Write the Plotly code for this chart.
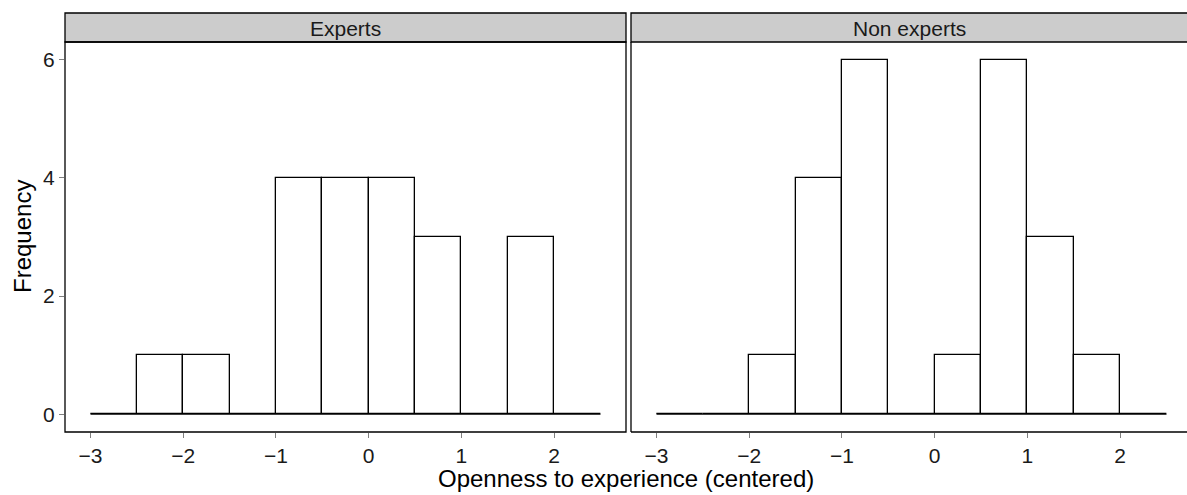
import plotly.graph_objects as go

# Histogram bins (width 0.5) and counts per group
bin_edges = [-3.0, -2.5, -2.0, -1.5, -1.0, -0.5, 0.0, 0.5, 1.0, 1.5, 2.0, 2.5]
experts_counts = [0, 1, 1, 0, 4, 4, 4, 3, 0, 3, 0]
non_experts_counts = [0, 0, 1, 4, 6, 0, 1, 6, 3, 1, 0]
panel_titles = ["Experts", "Non experts"]
x_ticks = [-3, -2, -1, 0, 1, 2]
x_tick_labels = ["\u22123", "\u22122", "\u22121", "0", "1", "2"]
y_ticks = [0, 2, 4, 6]

W, H = 1187, 495
FONT = "Liberation Sans, Arial, Helvetica, sans-serif"


def px_x(p):
    return p / W


def px_y(p):
    return 1 - p / H


centers = [(a + b) / 2 for a, b in zip(bin_edges[:-1], bin_edges[1:])]
widths = [b - a for a, b in zip(bin_edges[:-1], bin_edges[1:])]

fig = go.Figure()

for i, counts in enumerate([experts_counts, non_experts_counts]):
    xa = "x" if i == 0 else "x2"
    ya = "y" if i == 0 else "y2"
    # baseline where empty bins collapse to a line
    fig.add_trace(go.Scatter(
        x=[bin_edges[0], bin_edges[-1]], y=[0, 0], mode="lines",
        line=dict(color="black", width=1.2), xaxis=xa, yaxis=ya,
        hoverinfo="skip", showlegend=False))
    fig.add_trace(go.Bar(
        x=centers, y=counts, width=widths,
        marker=dict(color="white", line=dict(color="black", width=1.3)),
        xaxis=xa, yaxis=ya, showlegend=False))

# panel geometry in pixels
p1 = (65, 626)
p2 = (631, 1187)
top, bottom = 42, 432
strip_top = 13

scale = (p1[1] - p1[0]) / 6.05
x1_range = [-3.275, 2.775]
x2_range = [-3.275, -3.275 + (p2[1] - p2[0]) / scale]

tick_font = dict(family=FONT, size=21, color="#1a1a1a")
axis_common = dict(
    ticks="outside", ticklen=5, tickcolor="#7f7f7f", tickwidth=1,
    showgrid=False, zeroline=False, showline=False, tickfont=tick_font,
)

fig.update_layout(
    width=W, height=H,
    margin=dict(l=0, r=0, t=0, b=0),
    paper_bgcolor="white", plot_bgcolor="white",
    bargap=0,
    xaxis=dict(domain=[px_x(p1[0]), px_x(p1[1])], range=x1_range,
               tickvals=x_ticks, ticktext=x_tick_labels, anchor="y",
               ticklabelstandoff=0, **axis_common),
    xaxis2=dict(domain=[px_x(p2[0]), px_x(p2[1])], range=x2_range,
                tickvals=x_ticks, ticktext=x_tick_labels, anchor="y2",
                ticklabelstandoff=0, **axis_common),
    yaxis=dict(domain=[px_y(bottom), px_y(top)], range=[-0.3, 6.3],
               tickvals=y_ticks, anchor="x", **axis_common),
    yaxis2=dict(domain=[px_y(bottom), px_y(top)], range=[-0.3, 6.3],
                tickvals=y_ticks, showticklabels=False, ticks="",
                showgrid=False, zeroline=False, anchor="x2"),
)

shapes = []
line = dict(color="black", width=1.3)
# panel 1 frame
shapes.append(dict(type="rect", xref="paper", yref="paper",
                   x0=px_x(p1[0]), x1=px_x(p1[1]), y0=px_y(bottom), y1=px_y(top),
                   line=line, fillcolor="rgba(0,0,0,0)"))
# panel 2 left and bottom
shapes.append(dict(type="line", xref="paper", yref="paper",
                   x0=px_x(p2[0]), x1=px_x(p2[0]), y0=px_y(bottom), y1=px_y(top), line=line))
shapes.append(dict(type="line", xref="paper", yref="paper",
                   x0=px_x(p2[0]), x1=1.0, y0=px_y(bottom), y1=px_y(bottom), line=line))
# strips
for (a, b) in (p1, p2):
    shapes.append(dict(type="rect", xref="paper", yref="paper",
                       x0=px_x(a), x1=px_x(b) if b < W else 1.002,
                       y0=px_y(top), y1=px_y(strip_top),
                       line=line, fillcolor="#cccccc", layer="below"))
fig.update_layout(shapes=shapes)

annotations = []
for (a, b), title in zip((p1, p2), panel_titles):
    annotations.append(dict(
        text=title, xref="paper", yref="paper",
        x=px_x((a + b) / 2), y=px_y((top + strip_top) / 2 + 1),
        showarrow=False, xanchor="center", yanchor="middle",
        font=dict(family=FONT, size=21, color="#1a1a1a")))
annotations.append(dict(
    text="Openness to experience (centered)", xref="paper", yref="paper",
    x=px_x((p1[0] + p2[1]) / 2), y=0, showarrow=False,
    xanchor="center", yanchor="bottom", yshift=1,
    font=dict(family=FONT, size=24, color="black")))
annotations.append(dict(
    text="Frequency", xref="paper", yref="paper",
    x=px_x(22), y=px_y((top + bottom) / 2), showarrow=False, textangle=-90,
    xanchor="center", yanchor="middle",
    font=dict(family=FONT, size=24, color="black")))
fig.update_layout(annotations=annotations)

fig.write_html("out.html")
